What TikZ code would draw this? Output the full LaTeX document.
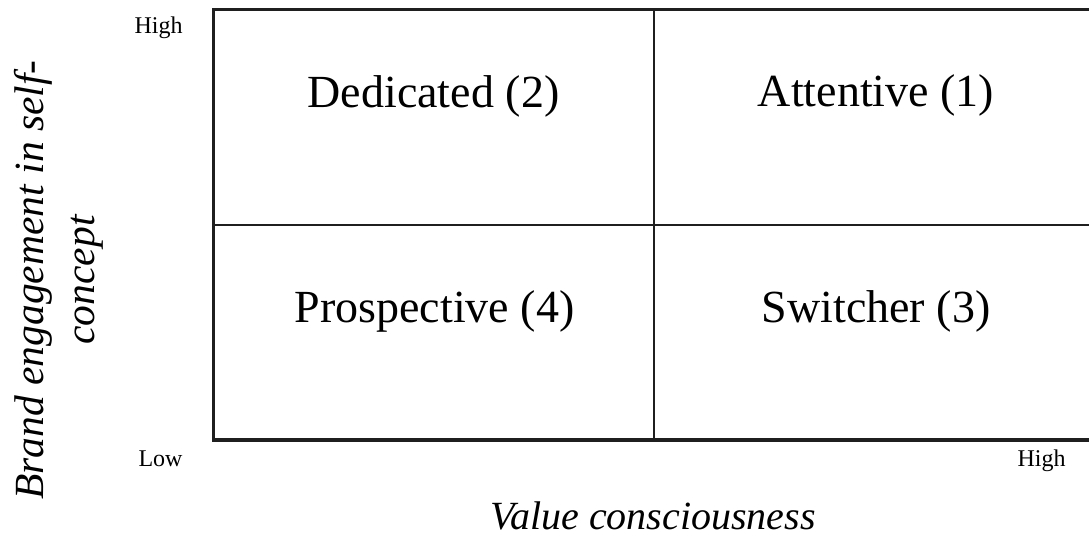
\documentclass[tikz,border=0pt]{standalone}
\usepackage{fontspec}
\setmainfont{Liberation Serif}
\begin{document}
\begin{tikzpicture}[x=1pt,y=-1pt,
  frameline/.style={line width=3pt, draw=black!88},
  gridline/.style={line width=2pt, draw=black!88},
  quadtext/.style={anchor=base, inner sep=0pt, font=\fontsize{46}{55}\selectfont},
  ticktext/.style={anchor=base, inner sep=0pt, font=\fontsize{24}{28}\selectfont},
  axistext/.style={inner sep=0pt, font=\fontsize{40}{50}\selectfont\itshape}]
  \useasboundingbox (0,0) rectangle (1089,538);
  % corners and midpoints of the matrix
  \coordinate (tl) at (213,9);
  \coordinate (tr) at (1089,9);
  \coordinate (bl) at (213,440);
  \coordinate (br) at (1089,440);
  \coordinate (mt) at (654,9);
  \coordinate (mb) at (654,440);
  \coordinate (ml) at (213,225);
  \coordinate (mr) at (1089,225);
  % frame
  \draw[frameline, line cap=rect] (tr) -- (tl) -- (bl);
  \draw[frameline, line width=3.5pt] (bl) -- (br);
  % dividers
  \draw[gridline] (mt) -- (mb);
  \draw[gridline] (ml) -- (mr);
  % quadrant labels
  \node[quadtext] (ded) at (433.5,107) {Dedicated (2)};
  \node[quadtext] (att) at (876,106) {Attentive (1)};
  \node[quadtext] (pro) at (434.5,322) {Prospective (4)};
  \node[quadtext] (swi) at (876,322) {Switcher (3)};
  % scale ends
  \node[ticktext] (yhigh) at (158.5,33) {High};
  \node[ticktext] (low) at (160.5,466) {Low};
  \node[ticktext] (xhigh) at (1041.5,466) {High};
  % axis titles
  \node[axistext, anchor=base] (xaxis) at (653,529) {Value consciousness};
  \node[axistext, rotate=90, align=center, font=\fontsize{41.5}{51}\selectfont\itshape] (yaxis) at (59,280) {Brand engagement in self-\\concept};
\end{tikzpicture}
\end{document}
